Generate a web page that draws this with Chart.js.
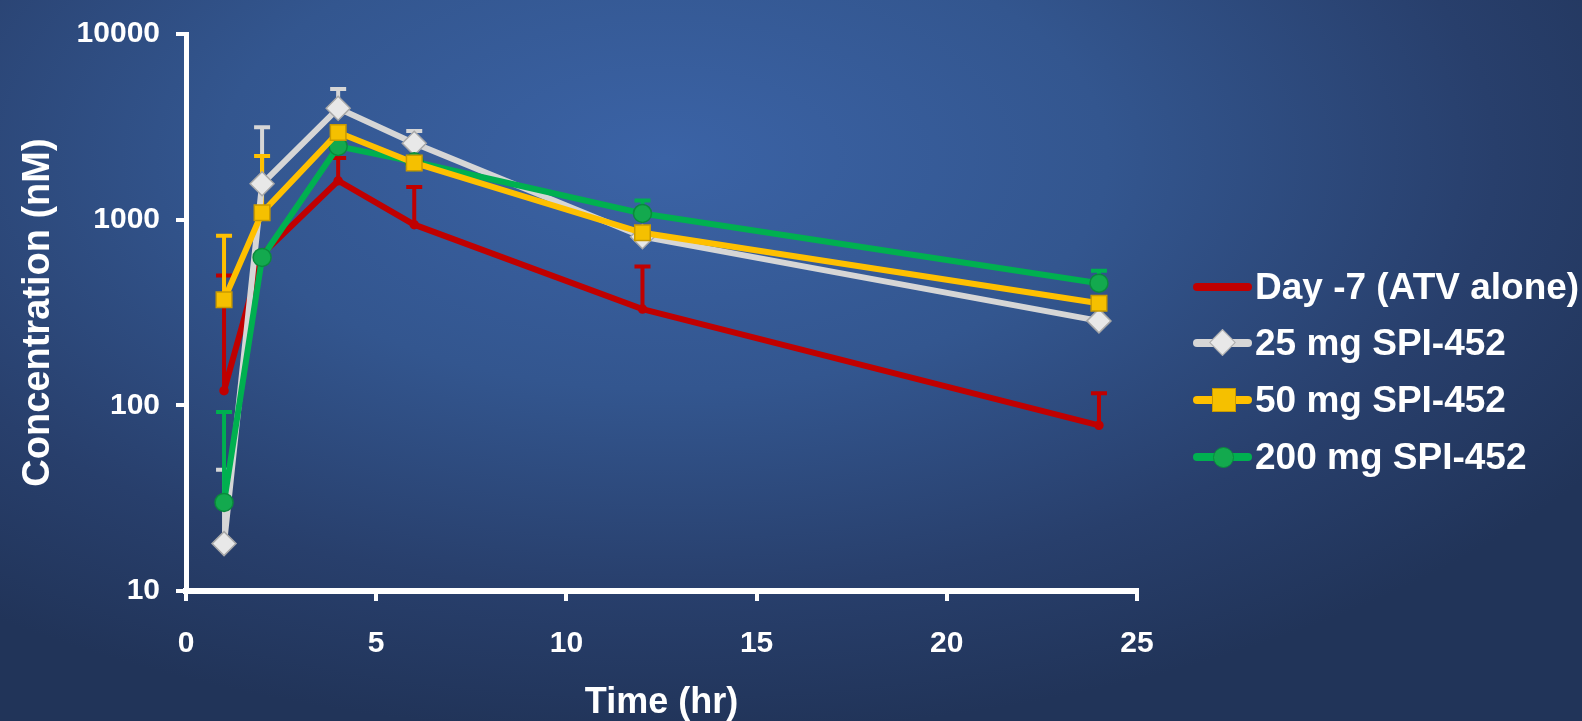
<!DOCTYPE html>
<html>
<head>
<meta charset="utf-8">
<script src="https://cdn.jsdelivr.net/npm/chart.js@4.4.0/dist/chart.umd.min.js"></script>
<style>
  html, body {
    margin: 0;
    padding: 0;
    width: 1582px;
    height: 721px;
    overflow: hidden;
    background: radial-gradient(ellipse 70% 80% at 42% 22%, #3b63a6 0%, #33568f 40%, #283f6c 75%, #213459 100%);
    font-family: "Liberation Sans", Arial, sans-serif;
  }
  #wrap { position: relative; width: 1582px; height: 721px; }
  canvas { position: absolute; left: 0; top: 0; }
  .legend { position: absolute; left: 1193px; top: 0; }
  .item {
    position: absolute;
    left: 0;
    height: 44px;
    white-space: nowrap;
    color: #fff;
    font-weight: bold;
    font-size: 37px;
    line-height: 44px;
  }
  .swatch {
    position: absolute;
    left: 0;
    top: 18px;
    width: 59px;
    height: 8px;
    border-radius: 4px;
  }
  .mark { position: absolute; }
  .label { position: absolute; left: 62px; top: 0; }
</style>
</head>
<body>
<div id="wrap">
  <canvas id="pkChart" width="1582" height="721"></canvas>
  <div class="legend" id="legend"></div>
</div>
<script>
// Time points (hr)
const times = [1, 2, 4, 6, 12, 24];
const yTickValues = [10, 100, 1000, 10000];
const xTickValues = [0, 5, 10, 15, 20, 25];

const seriesNames = [
  "Day -7 (ATV alone)",
  "25 mg SPI-452",
  "50 mg SPI-452",
  "200 mg SPI-452",
];

// Mean concentration (nM)
const atvAlone = [120, 650, 1620, 940, 330, 78];
const spi25 = [18, 1560, 3980, 2580, 810, 285];
const spi50 = [370, 1090, 2950, 2020, 850, 355];
const spi200 = [30, 626, 2480, 2050, 1080, 455];

// Top of the error bar (mean + SD), null where none is visible
const atvAloneTop = [500, null, 2150, 1500, 560, 116];
const spi25Top = [45, 3150, 5050, 3000, null, null];
const spi50Top = [820, 2200, null, null, null, null];
const spi200Top = [92, null, null, null, 1270, 530];

const colors = ["#c00000", "#d6d6d6", "#ffc000", "#00b050"];

function toPoints(values) {
  return times.map((t, i) => ({ x: t, y: values[i] }));
}

// draws the upper error bars through the chart's own scales
const errorBars = {
  id: "errorBars",
  beforeDatasetsDraw(chart) {
    const ctx = chart.ctx;
    const xs = chart.scales.x;
    const ys = chart.scales.y;
    chart.data.datasets.forEach((ds, i) => {
      if (!chart.isDatasetVisible(i)) return;
      ctx.save();
      ctx.strokeStyle = ds.borderColor;
      ctx.lineWidth = 4;
      ds.errTop.forEach((top, j) => {
        if (top == null) return;
        const px = xs.getPixelForValue(times[j]);
        const py = ys.getPixelForValue(ds.data[j].y);
        const pt = ys.getPixelForValue(top);
        ctx.beginPath();
        ctx.moveTo(px, py);
        ctx.lineTo(px, pt);
        ctx.moveTo(px - 8, pt);
        ctx.lineTo(px + 8, pt);
        ctx.stroke();
      });
      ctx.restore();
    });
  },
};

const ctx = document.getElementById("pkChart").getContext("2d");
const pkChart = new Chart(ctx, {
  type: "line",
  data: {
    datasets: [
      {
        label: seriesNames[0],
        data: toPoints(atvAlone),
        errTop: atvAloneTop,
        borderColor: colors[0],
        backgroundColor: colors[0],
        pointStyle: "circle",
        pointRadius: 4,
        order: 4,
      },
      {
        label: seriesNames[1],
        data: toPoints(spi25),
        errTop: spi25Top,
        borderColor: colors[1],
        backgroundColor: "#e8e8e8",
        pointBorderColor: "#a8a8a8",
        pointStyle: "rectRot",
        pointRadius: 12,
        order: 3,
      },
      {
        label: seriesNames[2],
        data: toPoints(spi50),
        errTop: spi50Top,
        borderColor: colors[2],
        backgroundColor: "#f5c000",
        pointBorderColor: "#c99a00",
        pointStyle: "rect",
        pointRadius: 11,
        order: 1,
      },
      {
        label: seriesNames[3],
        data: toPoints(spi200),
        errTop: spi200Top,
        borderColor: colors[3],
        backgroundColor: "#13a94e",
        pointBorderColor: "#0a8a3c",
        pointStyle: "circle",
        pointRadius: 9,
        order: 2,
      },
    ],
  },
  options: {
    responsive: false,
    animation: false,
    layout: {
      padding: { left: 0, top: 30, right: 445, bottom: 0 },
    },
    elements: {
      line: { borderWidth: 6, tension: 0 },
      point: { borderWidth: 1.5, hoverRadius: 0 },
    },
    plugins: {
      legend: { display: false },
      tooltip: { enabled: false },
    },
    scales: {
      x: {
        type: "linear",
        min: 0,
        max: 25,
        afterFit: (scale) => {
          scale.height = 130;
        },
        afterBuildTicks: (scale) => {
          scale.ticks = xTickValues.map((v) => ({ value: v }));
        },
        border: { color: "#ffffff", width: 6 },
        grid: {
          drawOnChartArea: false,
          drawTicks: true,
          tickLength: 10,
          color: "#ffffff",
          lineWidth: 4,
        },
        ticks: {
          color: "#ffffff",
          padding: 25,
          maxRotation: 0,
          font: { family: "Liberation Sans", size: 30, weight: "bold" },
        },
        title: {
          display: true,
          text: "Time (hr)",
          color: "#ffffff",
          padding: { top: 0, bottom: -4 },
          font: { family: "Liberation Sans", size: 36, weight: "bold" },
        },
      },
      y: {
        type: "logarithmic",
        min: 10,
        max: 10000,
        afterFit: (scale) => {
          scale.width = 186;
        },
        afterBuildTicks: (scale) => {
          scale.ticks = yTickValues.map((v) => ({ value: v }));
        },
        border: { color: "#ffffff", width: 5 },
        grid: {
          drawOnChartArea: false,
          drawTicks: true,
          tickLength: 10,
          color: "#ffffff",
          lineWidth: 4,
        },
        ticks: {
          color: "#ffffff",
          padding: 16,
          callback: (v) => String(v),
          font: { family: "Liberation Sans", size: 30, weight: "bold" },
        },
        title: {
          display: true,
          text: "Concentration (nM)",
          color: "#ffffff",
          padding: { top: 16, bottom: 0 },
          font: { family: "Liberation Sans", size: 38, weight: "bold" },
        },
      },
    },
  },
  plugins: [errorBars],
});

// legend on the right
const legendTops = [265, 321, 378, 435];
const markers = [
  '<div class="mark" style="left:25px;top:19px;width:5px;height:6px;background:#c00000"></div>',
  '<div class="mark" style="left:20px;top:12px;width:17px;height:17px;background:#e8e8e8;border:1px solid #a8a8a8;transform:rotate(45deg)"></div>',
  '<div class="mark" style="left:19px;top:10px;width:22px;height:22px;background:#f5c000;border:1px solid #c99a00"></div>',
  '<div class="mark" style="left:20px;top:12px;width:19px;height:19px;border-radius:50%;background:#13a94e;border:1px solid #0a8a3c"></div>',
];
const legend = document.getElementById("legend");
seriesNames.forEach((name, i) => {
  const item = document.createElement("div");
  item.className = "item";
  item.style.top = legendTops[i] + "px";
  item.innerHTML =
    '<div class="swatch" style="background:' + colors[i] + '"></div>' +
    markers[i] +
    '<span class="label">' + name + "</span>";
  legend.appendChild(item);
});
</script>
</body>
</html>
